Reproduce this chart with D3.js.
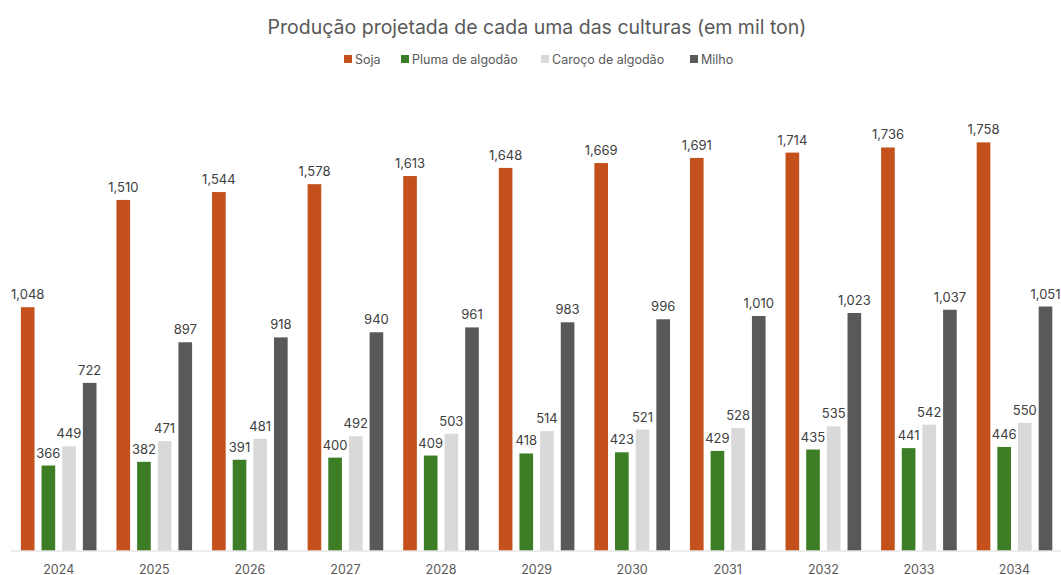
<!DOCTYPE html>
<html>
<head>
<meta charset="utf-8">
<script src="https://cdn.jsdelivr.net/npm/d3@7"></script>
<style>
  html, body { margin: 0; padding: 0; background: #ffffff; }
  svg { display: block; }
</style>
</head>
<body>
<svg id="chart" width="1061" height="575"></svg>
<script>
// Projected production per crop, thousand tonnes
const years = ["2024", "2025", "2026", "2027", "2028", "2029", "2030", "2031", "2032", "2033", "2034"];
const seriesNames = ["Soja", "Pluma de algodão", "Caroço de algodão", "Milho"];
const soja = [1048, 1510, 1544, 1578, 1613, 1648, 1669, 1691, 1714, 1736, 1758];
const pluma = [366, 382, 391, 400, 409, 418, 423, 429, 435, 441, 446];
const caroco = [449, 471, 481, 492, 503, 514, 521, 528, 535, 542, 550];
const milho = [722, 897, 918, 940, 961, 983, 996, 1010, 1023, 1037, 1051];
const colors = ["#C4511B", "#3C7D25", "#D9D9D9", "#595959"];

const seriesValues = [soja, pluma, caroco, milho];
const fontFamily = "Inter, 'Open Sans', 'DejaVu Sans', sans-serif";

const svg = d3.select("#chart");
const plot = { left: 10.9, right: 1062.3, top: 86.2, bottom: 550.5 };

const x0 = d3.scaleBand()
  .domain(years)
  .range([plot.left, plot.right])
  .paddingInner(0.209)
  .paddingOuter(0.1045);

const x1 = d3.scaleBand()
  .domain(seriesNames)
  .range([0, x0.bandwidth()])
  .paddingInner(0.34)
  .paddingOuter(0);

const y = d3.scaleLinear().domain([0, 2000]).range([plot.bottom, plot.top]);
const color = d3.scaleOrdinal().domain(seriesNames).range(colors);

// Title
svg.append("text")
  .attr("x", 537)
  .attr("y", 34)
  .attr("text-anchor", "middle")
  .attr("font-family", fontFamily)
  .attr("font-size", 19.5)
  .attr("fill", "#595959")
  .text("Produção projetada de cada uma das culturas (em mil ton)");

// Legend
const legendX = [344, 401, 541, 690];
const legend = svg.append("g").attr("font-family", fontFamily).attr("font-size", 12.5).attr("fill", "#595959");
seriesNames.forEach((name, i) => {
  const g = legend.append("g").attr("transform", `translate(${legendX[i]},0)`);
  g.append("rect").attr("x", 0).attr("y", 55).attr("width", 8).attr("height", 8).attr("fill", color(name));
  g.append("text").attr("x", 11).attr("y", 63.5).text(name);
});

// Bars
const rows = years.map((yr, i) => ({
  year: yr,
  values: seriesNames.map((s, k) => ({ series: s, value: seriesValues[k][i] }))
}));

const groups = svg.append("g")
  .selectAll("g")
  .data(rows)
  .join("g")
  .attr("transform", d => `translate(${x0(d.year)},0)`);

groups.selectAll("rect")
  .data(d => d.values)
  .join("rect")
  .attr("x", d => x1(d.series))
  .attr("y", d => y(d.value))
  .attr("width", x1.bandwidth())
  .attr("height", d => y(0) - y(d.value))
  .attr("fill", d => color(d.series));

const fmt = d3.format(",");
groups.selectAll("text")
  .data(d => d.values)
  .join("text")
  .attr("x", d => x1(d.series) + x1.bandwidth() / 2)
  .attr("y", d => y(d.value) - 8)
  .attr("text-anchor", "middle")
  .attr("font-family", fontFamily)
  .attr("font-size", 13)
  .attr("fill", "#404040")
  .text(d => fmt(d.value));

// Category axis
const xAxis = svg.append("g")
  .attr("transform", `translate(0,${plot.bottom})`)
  .call(d3.axisBottom(x0).tickSize(0).tickPadding(0));
xAxis.select(".domain").attr("stroke", "#D9D9D9").attr("stroke-width", 1)
  .attr("d", `M${plot.left},0.5H${plot.right}`);
xAxis.selectAll("text")
  .attr("dy", null)
  .attr("y", 23)
  .attr("font-family", fontFamily)
  .attr("font-size", 12.5)
  .attr("fill", "#595959");
</script>
</body>
</html>
